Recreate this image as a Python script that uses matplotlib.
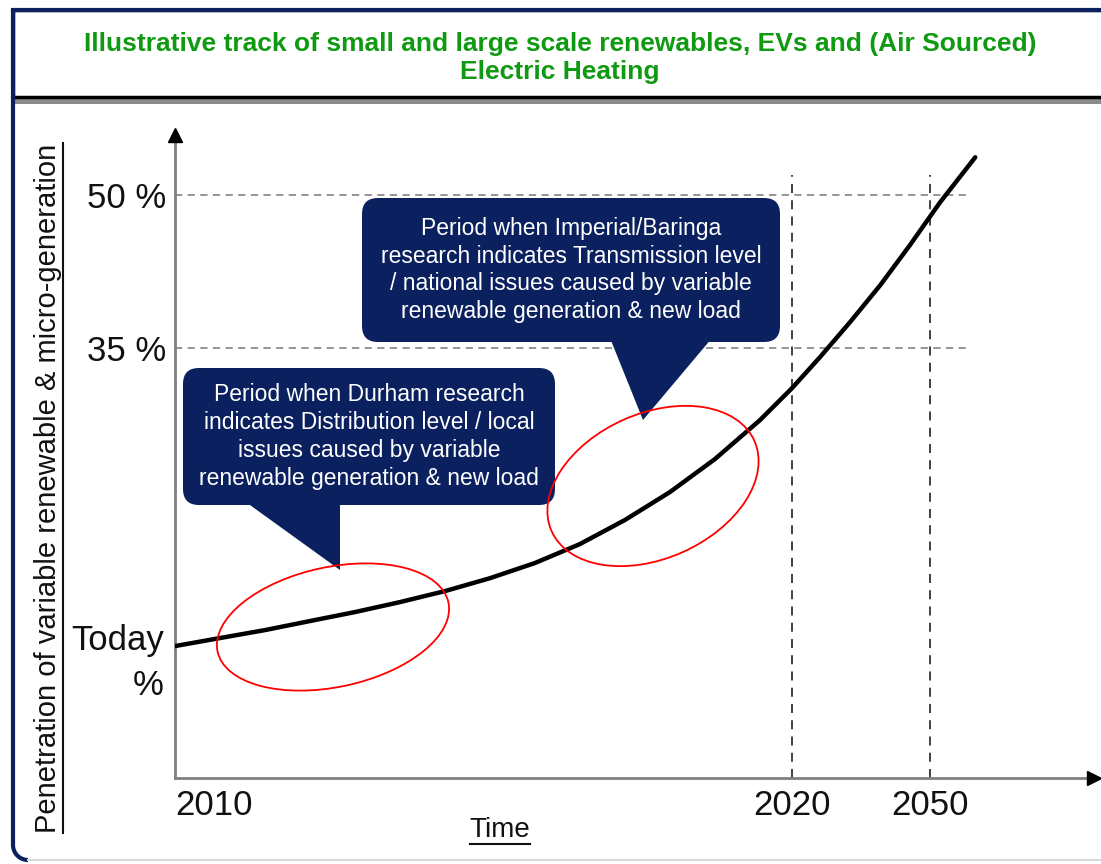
import matplotlib
matplotlib.use("Agg")
import matplotlib.pyplot as plt
from matplotlib.patches import FancyBboxPatch, Polygon, Ellipse, Rectangle, Arc

plt.rcParams["font.family"] = ["Liberation Sans", "DejaVu Sans"]

# illustrative track: x in "time units" (2010 = 0, 2020 = 1), y in percent
track_x = [0.0, 0.073, 0.146, 0.219, 0.292, 0.365, 0.438, 0.511, 0.583, 0.656, 0.729,
           0.802, 0.875, 0.948, 1.0, 1.045, 1.094, 1.143, 1.191, 1.240, 1.297]
track_y = [5.78, 6.57, 7.35, 8.24, 9.12, 10.10, 11.18, 12.45, 13.92, 15.78, 18.14,
           20.88, 24.12, 27.94, 31.08, 34.10, 37.55, 41.18, 45.10, 49.31, 53.73]

year_pos = [0.0, 1.0, 1.224]
year_labels = ["2010", "2020", "2050"]
level_vals = [35, 50]
level_labels = ["35 %", "50 %"]
today_val = 4.1

title = "Illustrative track of small and large scale renewables, EVs and (Air Sourced)\nElectric Heating"
ylabel = "Penetration of variable renewable & micro-generation"
xlabel = "Time"
note_durham = ("Period when Durham research\nindicates Distribution level / local\n"
               "issues caused by variable\nrenewable generation & new load")
note_imperial = ("Period when Imperial/Baringa\nresearch indicates Transmission level\n"
                 "/ national issues caused by variable\nrenewable generation & new load")

navy = "#0b215f"
green = "#0f9a12"

W, H = 1101, 864
fig = plt.figure(figsize=(W / 100, H / 100), dpi=100)

# chart axes (pixel box 175..1100 x, 128..778 y)
ax = fig.add_axes([175 / W, (H - 778) / H, 925 / W, 650 / H])
ax.set_xlim(0, 925 / 617)
ax.set_ylim(-7.16, 56.6)
for s in ax.spines.values():
    s.set_visible(False)
ax.patch.set_alpha(0)

# dashed guides
for v in level_vals:
    ax.plot([0, 1.288], [v, v], color="#8c8c8c", lw=1.3, ls=(0, (4, 3)), zorder=1)
for p in year_pos[1:]:
    ax.plot([p, p], [-7.16, 52.0], color="#333333", lw=1.3, ls=(0, (5, 4)), zorder=1)

ax.plot(track_x, track_y, color="black", lw=3.2, solid_capstyle="round",
        solid_joinstyle="round", zorder=3)

# axes with black arrow heads
ax.plot([0, 0.99], [0, 0], transform=ax.transAxes, color="#808080", lw=2, clip_on=False)
ax.plot([0, 0], [0, 0.985], transform=ax.transAxes, color="#808080", lw=2, clip_on=False)
ax.plot([0.9935], [0], transform=ax.transAxes, marker=">", ms=10, color="black", clip_on=False)
ax.plot([0], [0.99], transform=ax.transAxes, marker="^", ms=10, color="black", clip_on=False)

ax.set_xticks(year_pos)
ax.set_xticklabels(year_labels, fontsize=25, color="#111111")
ax.get_xticklabels()[0].set_horizontalalignment("left")
ax.set_yticks(level_vals)
ax.set_yticklabels(level_labels, fontsize=25, color="#111111")
ax.tick_params(length=0, pad=6)
ax.tick_params(axis="x", pad=8)
ax.text(-0.012, today_val, "Today\n%", transform=ax.get_yaxis_transform(), ha="right", va="center",
        fontsize=25, color="#111111", multialignment="right", linespacing=1.45)

# overlay in pixel coordinates
ov = fig.add_axes([0, 0, 1, 1])
ov.set_xlim(0, W)
ov.set_ylim(H, 0)
ov.axis("off")
ov.patch.set_alpha(0)

# outer frame
ov.plot([13, 13], [10, 845], color=navy, lw=3, solid_capstyle="butt")
ov.add_patch(Arc((28, 845), 30, 30, theta1=90, theta2=180, color=navy, lw=3))
ov.plot([28, W], [860, 860], color="#d8d8d8", lw=1.5)

# title box with shadow
ov.add_patch(Rectangle((15, 98), W, 6, color="#8a8a8a", lw=0))
ov.add_patch(Rectangle((13, 10), W, 87, facecolor="white", edgecolor="black", lw=2.5))
ov.plot([13, W], [10, 10], color=navy, lw=3)
ov.text(560, 58, title, ha="center", va="center", fontsize=19, fontweight="bold", color=green,
        linespacing=1.2)

# callouts
def callout(x0, y0, w, h, tail, text):
    ov.add_patch(FancyBboxPatch((x0, y0), w, h, boxstyle="round,pad=0,rounding_size=16",
                                facecolor=navy, edgecolor="none", zorder=5))
    ov.add_patch(Polygon(tail, closed=True, facecolor=navy, edgecolor="none", zorder=5))
    ov.text(x0 + w / 2, y0 + h / 2, text, ha="center", va="center", color="white",
            fontsize=16.5, linespacing=1.27, zorder=6)

callout(183, 368, 372, 137, [(243, 500), (340, 500), (340, 570)], note_durham)
callout(362, 198, 418, 144, [(610, 338), (712, 338), (643, 420)], note_imperial)

# highlight ellipses
ov.add_patch(Ellipse((333, 627), 236, 120, angle=-12, fill=False, ec="red", lw=1.3, zorder=7))
ov.add_patch(Ellipse((653, 486), 222, 145, angle=-24, fill=False, ec="red", lw=1.3, zorder=7))

# axis titles with underline
yl = ov.text(48, 488, ylabel, rotation=90, ha="center", va="center", fontsize=21, color="#111111")
xl = ov.text(500, 830, xlabel, ha="center", va="center", fontsize=20, color="#111111")
fig.canvas.draw()
inv = ov.transData.inverted()
bb = yl.get_window_extent()
(x0, y0), (x1, y1) = inv.transform([(bb.x0, bb.y0), (bb.x1, bb.y1)])
ov.plot([x1 + 1, x1 + 1], [y0, y1], color="#111111", lw=1.5)
bb = xl.get_window_extent()
(x0, y0), (x1, y1) = inv.transform([(bb.x0, bb.y0), (bb.x1, bb.y1)])
ov.plot([x0, x1], [y0 + 1, y0 + 1], color="#111111", lw=1.5)

fig.savefig("out.png", dpi=100)
